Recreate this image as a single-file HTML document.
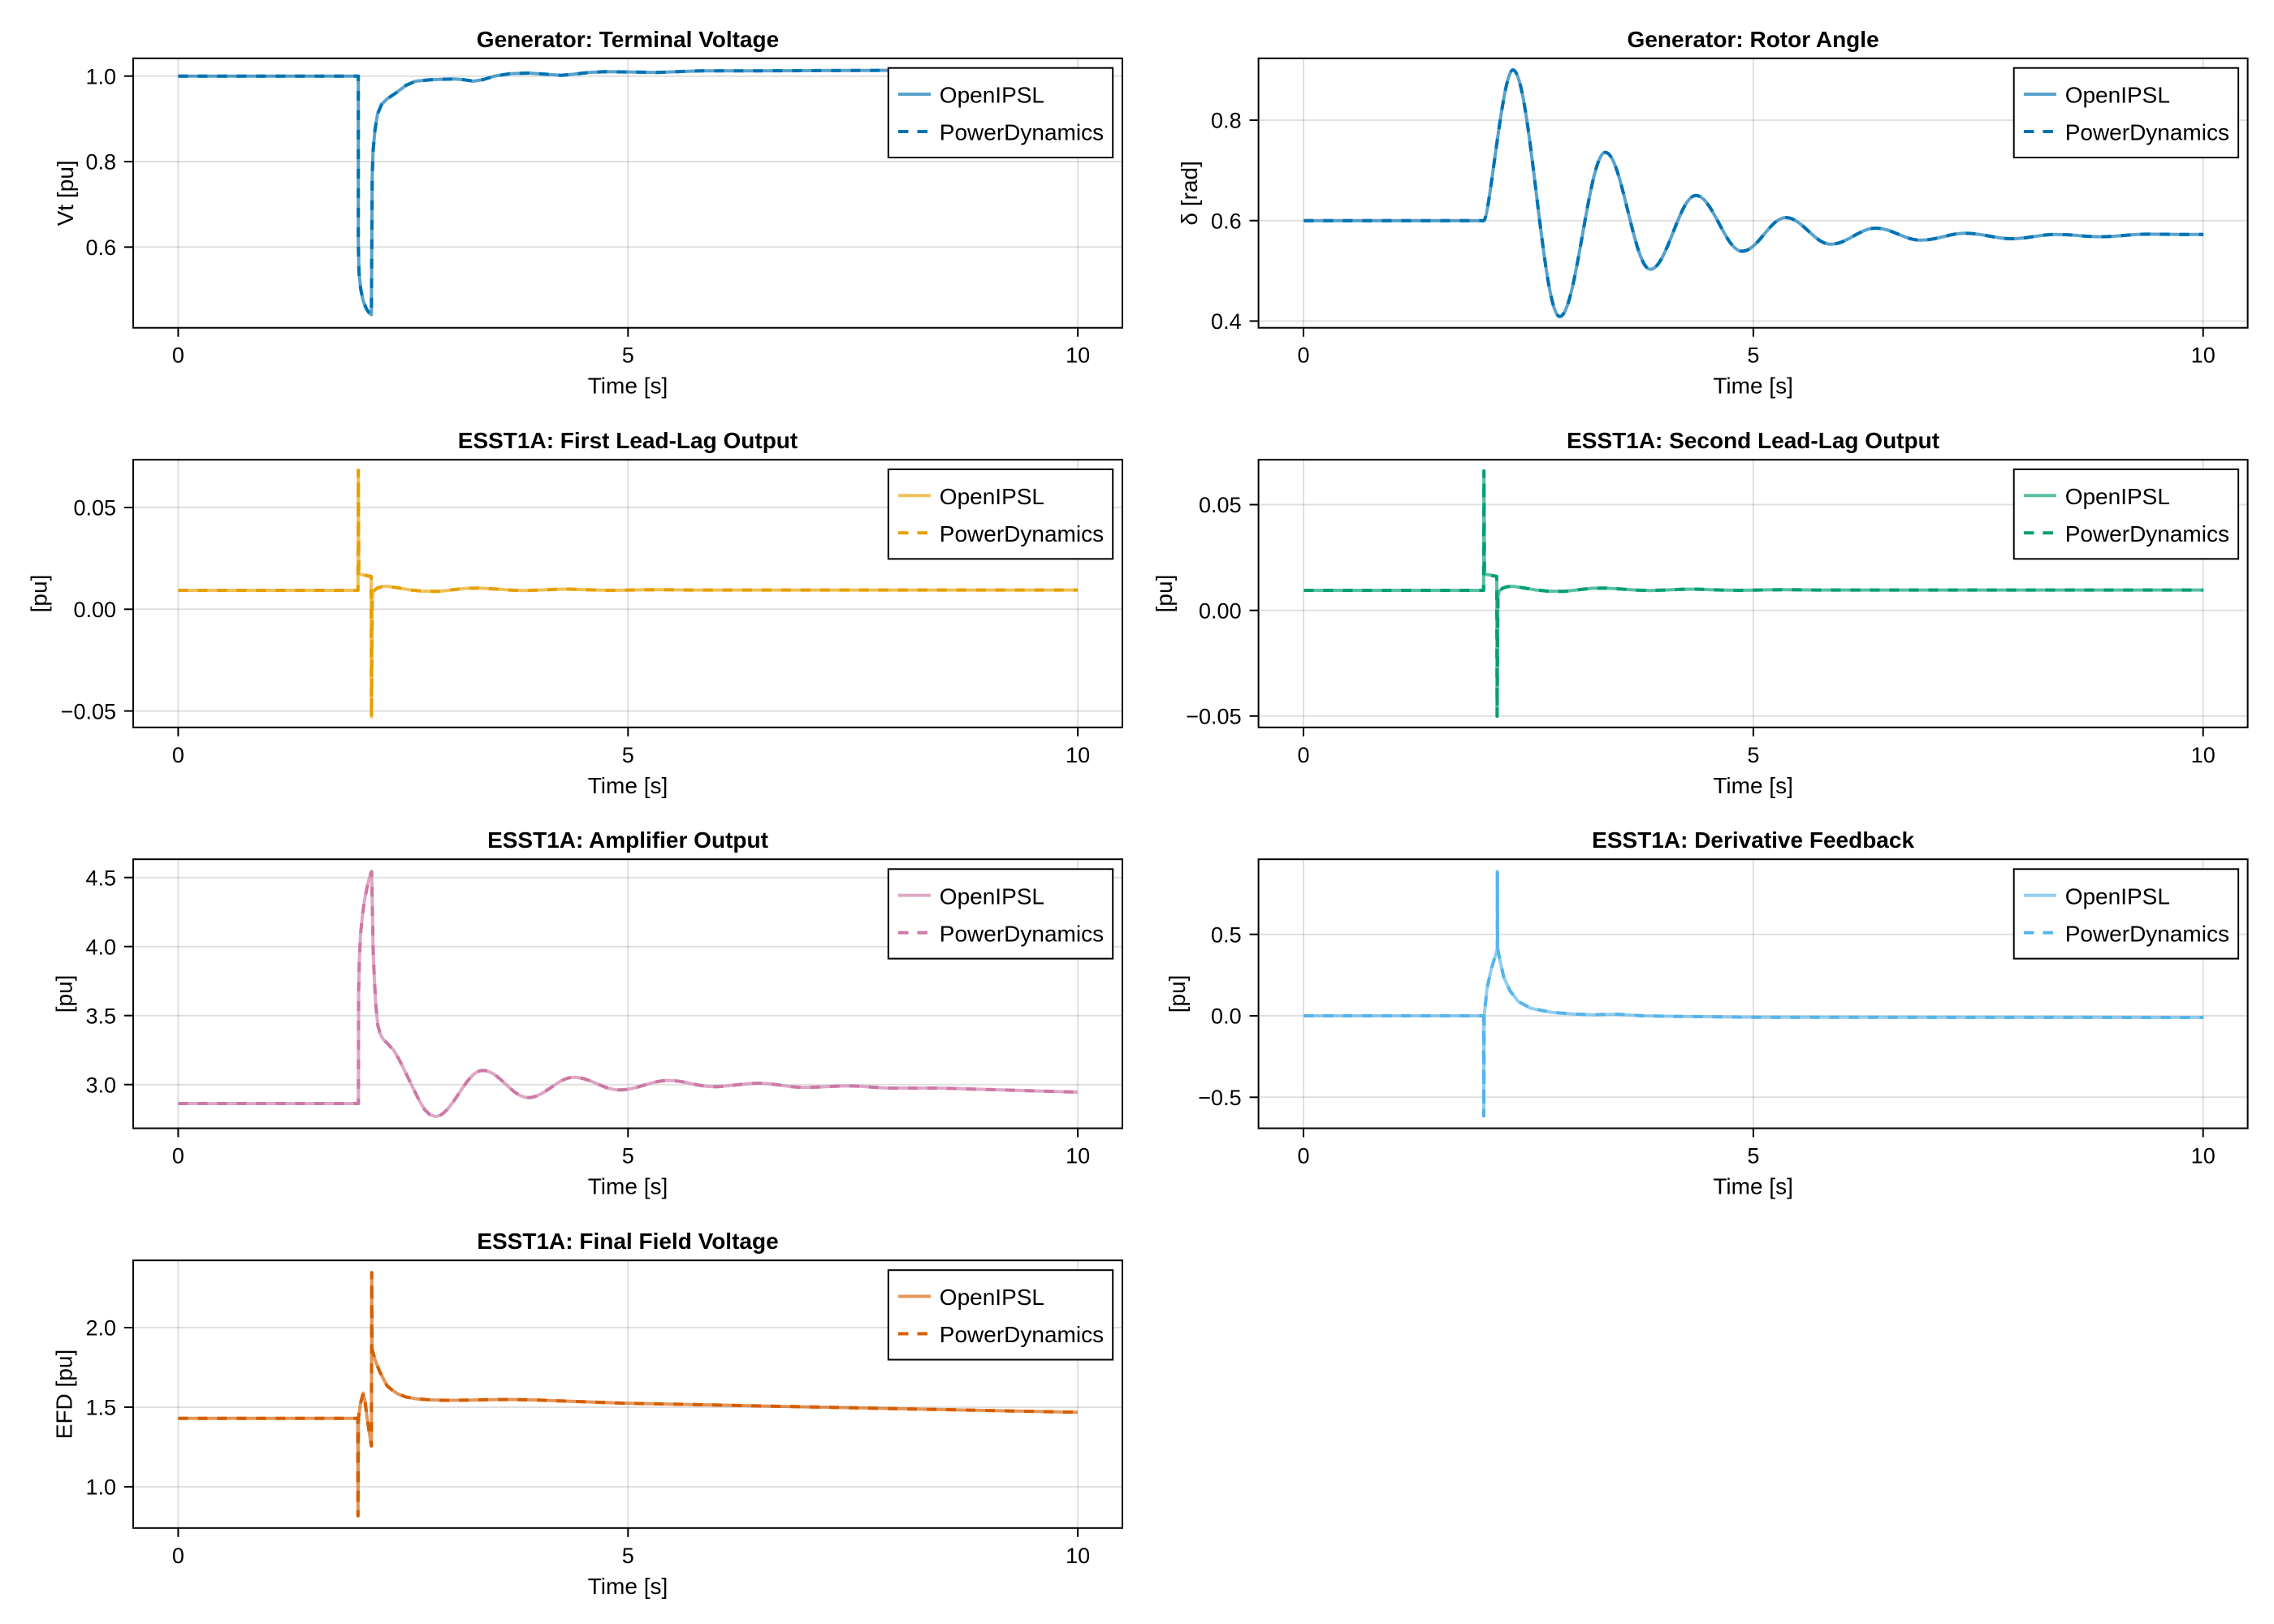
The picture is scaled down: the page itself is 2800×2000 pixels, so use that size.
<!DOCTYPE html>
<html>
<head>
<meta charset="utf-8">
<style>
html,body{margin:0;padding:0;background:#fff;}
svg{display:block;}
text{font-family:"Liberation Sans",Arial,sans-serif;fill:#000;}
.t{font-size:27px;}
.lab{font-size:28px;}
.ttl{font-size:28px;font-weight:bold;}
.grid{stroke:rgba(0,0,0,0.12);stroke-width:2;}
.tick{stroke:#000;stroke-width:2;}
.spine{fill:none;stroke:#000;stroke-width:2;}
.sol{fill:none;stroke-width:4;stroke-opacity:.65;stroke-linejoin:round;}
.dsh{fill:none;stroke-width:4;stroke-dasharray:12 12;stroke-linejoin:round;}
</style>
</head>
<body>
<svg width="2800" height="2000" viewBox="0 0 2800 2000" xmlns="http://www.w3.org/2000/svg">
<rect x="0" y="0" width="2800" height="2000" fill="#fff"/>

<!-- ================= Plot 1 Left: Terminal Voltage ================= -->
<g>
<line class="grid" x1="219.4" y1="71.8" x2="219.4" y2="403.7"/>
<line class="grid" x1="773.3" y1="71.8" x2="773.3" y2="403.7"/>
<line class="grid" x1="1327.1" y1="71.8" x2="1327.1" y2="403.7"/>
<line class="grid" x1="164" y1="93.7" x2="1382" y2="93.7"/>
<line class="grid" x1="164" y1="199" x2="1382" y2="199"/>
<line class="grid" x1="164" y1="304.3" x2="1382" y2="304.3"/>
<path class="sol" stroke="#0072B2" d="M219.4,93.7 L441.2,93.7 L441.2,250 L441.2,300 L442,335 L444,355 L447,370 L451,380 L455,386 L457.3,387.5 L457.8,300 L458.3,217 L459.3,187 L461.7,160 L465,140 L470,128.3 L476.7,121.7 L486.7,115 L500,105 L511.7,100 L529.6,98.3 L545,97.6 L560,97.3 L572,98.3 L583,100 L595,98 L610,93.5 L628.4,90.7 L650.8,90 L670,91.3 L691.2,92.7 L705,91.5 L725,89.3 L745,88.3 L775,88.6 L808,89.3 L840,88 L861.8,87.3 L920,87.3 L990,87 L1100,86.6 L1200,86.5 L1327,86.5"/>
<path class="dsh" stroke="#0072B2" d="M219.4,93.7 L441.2,93.7 L441.2,250 L441.2,300 L442,335 L444,355 L447,370 L451,380 L455,386 L457.3,387.5 L457.8,300 L458.3,217 L459.3,187 L461.7,160 L465,140 L470,128.3 L476.7,121.7 L486.7,115 L500,105 L511.7,100 L529.6,98.3 L545,97.6 L560,97.3 L572,98.3 L583,100 L595,98 L610,93.5 L628.4,90.7 L650.8,90 L670,91.3 L691.2,92.7 L705,91.5 L725,89.3 L745,88.3 L775,88.6 L808,89.3 L840,88 L861.8,87.3 L920,87.3 L990,87 L1100,86.6 L1200,86.5 L1327,86.5"/>
<rect class="spine" x="164" y="71.8" width="1218" height="331.9"/>
<line class="tick" x1="219.4" y1="403.7" x2="219.4" y2="414.7"/>
<line class="tick" x1="773.3" y1="403.7" x2="773.3" y2="414.7"/>
<line class="tick" x1="1327.1" y1="403.7" x2="1327.1" y2="414.7"/>
<line class="tick" x1="153" y1="93.7" x2="164" y2="93.7"/>
<line class="tick" x1="153" y1="199" x2="164" y2="199"/>
<line class="tick" x1="153" y1="304.3" x2="164" y2="304.3"/>
<text class="t" x="219.4" y="446.7" text-anchor="middle">0</text>
<text class="t" x="773.3" y="446.7" text-anchor="middle">5</text>
<text class="t" x="1327.1" y="446.7" text-anchor="middle">10</text>
<text class="t" x="143" y="103.4" text-anchor="end">1.0</text>
<text class="t" x="143" y="208.7" text-anchor="end">0.8</text>
<text class="t" x="143" y="314" text-anchor="end">0.6</text>
<text class="lab" x="773" y="484.7" text-anchor="middle">Time [s]</text>
<text class="lab" transform="translate(90,237.8) rotate(-90)" text-anchor="middle">Vt [pu]</text>
<text class="ttl" x="773" y="57.8" text-anchor="middle">Generator: Terminal Voltage</text>
<g transform="translate(1093.8,83.7)">
<rect x="0" y="0" width="276.4" height="110.3" fill="#fff" stroke="#000" stroke-width="2"/>
<line x1="12.2" y1="32.3" x2="52.2" y2="32.3" stroke="#0072B2" stroke-width="4" stroke-opacity=".65"/>
<text class="lab" x="63" y="43">OpenIPSL</text>
<line x1="12.2" y1="78.3" x2="52.2" y2="78.3" stroke="#0072B2" stroke-width="4" stroke-dasharray="12.5 11"/>
<text class="lab" x="63" y="89">PowerDynamics</text>
</g>
</g>

<!-- ================= Plot 1 Right: Rotor Angle ================= -->
<g>
<line class="grid" x1="1605" y1="71.8" x2="1605" y2="403.7"/>
<line class="grid" x1="2158.9" y1="71.8" x2="2158.9" y2="403.7"/>
<line class="grid" x1="2712.7" y1="71.8" x2="2712.7" y2="403.7"/>
<line class="grid" x1="1549.6" y1="148" x2="2767.6" y2="148"/>
<line class="grid" x1="1549.6" y1="271.7" x2="2767.6" y2="271.7"/>
<line class="grid" x1="1549.6" y1="395.4" x2="2767.6" y2="395.4"/>
<path class="sol" stroke="#0072B2" d="M1605.4,271.7 L1826.9,271.7 C1834,271.7 1850,86.1 1862.8,86.1 C1883.8,86.1 1899.5,389.8 1920.5,389.8 C1941.0,389.8 1956.2,187.6 1976.7,187.6 C1996.8,187.6 2011.9,331.7 2032.0,331.7 C2052.4,331.7 2067.7,240.8 2088.1,240.8 C2108.8,240.8 2124.4,309.4 2145.1,309.4 C2164.7,309.4 2179.3,268.0 2198.9,268.0 C2219.0,268.0 2234.1,300.8 2254.2,300.8 C2274.4,300.8 2289.4,281.0 2309.6,281.0 C2329.8,281.0 2344.8,295.8 2365.0,295.8 C2385.1,295.8 2400.2,287.2 2420.3,287.2 C2441.0,287.2 2456.5,294.0 2477.2,294.0 C2496.7,294.0 2511.4,288.7 2530.9,288.7 C2551.2,288.7 2566.5,291.5 2586.8,291.5 C2607.4,291.5 2622.7,288.4 2643.3,288.4 C2670,288.4 2690,289 2713.1,288.7"/>
<path class="dsh" stroke="#0072B2" d="M1605.4,271.7 L1826.9,271.7 C1834,271.7 1850,86.1 1862.8,86.1 C1883.8,86.1 1899.5,389.8 1920.5,389.8 C1941.0,389.8 1956.2,187.6 1976.7,187.6 C1996.8,187.6 2011.9,331.7 2032.0,331.7 C2052.4,331.7 2067.7,240.8 2088.1,240.8 C2108.8,240.8 2124.4,309.4 2145.1,309.4 C2164.7,309.4 2179.3,268.0 2198.9,268.0 C2219.0,268.0 2234.1,300.8 2254.2,300.8 C2274.4,300.8 2289.4,281.0 2309.6,281.0 C2329.8,281.0 2344.8,295.8 2365.0,295.8 C2385.1,295.8 2400.2,287.2 2420.3,287.2 C2441.0,287.2 2456.5,294.0 2477.2,294.0 C2496.7,294.0 2511.4,288.7 2530.9,288.7 C2551.2,288.7 2566.5,291.5 2586.8,291.5 C2607.4,291.5 2622.7,288.4 2643.3,288.4 C2670,288.4 2690,289 2713.1,288.7"/>
<rect class="spine" x="1549.6" y="71.8" width="1218" height="331.9"/>
<line class="tick" x1="1605" y1="403.7" x2="1605" y2="414.7"/>
<line class="tick" x1="2158.9" y1="403.7" x2="2158.9" y2="414.7"/>
<line class="tick" x1="2712.7" y1="403.7" x2="2712.7" y2="414.7"/>
<line class="tick" x1="1538.6" y1="148" x2="1549.6" y2="148"/>
<line class="tick" x1="1538.6" y1="271.7" x2="1549.6" y2="271.7"/>
<line class="tick" x1="1538.6" y1="395.4" x2="1549.6" y2="395.4"/>
<text class="t" x="1605" y="446.7" text-anchor="middle">0</text>
<text class="t" x="2158.9" y="446.7" text-anchor="middle">5</text>
<text class="t" x="2712.7" y="446.7" text-anchor="middle">10</text>
<text class="t" x="1528.6" y="157.7" text-anchor="end">0.8</text>
<text class="t" x="1528.6" y="281.4" text-anchor="end">0.6</text>
<text class="t" x="1528.6" y="405.1" text-anchor="end">0.4</text>
<text class="lab" x="2158.6" y="484.7" text-anchor="middle">Time [s]</text>
<text class="lab" transform="translate(1474,237.8) rotate(-90)" text-anchor="middle">δ [rad]</text>
<text class="ttl" x="2158.6" y="57.8" text-anchor="middle">Generator: Rotor Angle</text>
<g transform="translate(2479.7,83.7)">
<rect x="0" y="0" width="276.4" height="110.3" fill="#fff" stroke="#000" stroke-width="2"/>
<line x1="12.2" y1="32.3" x2="52.2" y2="32.3" stroke="#0072B2" stroke-width="4" stroke-opacity=".65"/>
<text class="lab" x="63" y="43">OpenIPSL</text>
<line x1="12.2" y1="78.3" x2="52.2" y2="78.3" stroke="#0072B2" stroke-width="4" stroke-dasharray="12.5 11"/>
<text class="lab" x="63" y="89">PowerDynamics</text>
</g>
</g>

<!-- ================= Plot 2 Left: First Lead-Lag ================= -->
<g>
<line class="grid" x1="219.4" y1="566.2" x2="219.4" y2="895.8"/>
<line class="grid" x1="773.3" y1="566.2" x2="773.3" y2="895.8"/>
<line class="grid" x1="1327.1" y1="566.2" x2="1327.1" y2="895.8"/>
<line class="grid" x1="164" y1="625" x2="1382" y2="625"/>
<line class="grid" x1="164" y1="750.3" x2="1382" y2="750.3"/>
<line class="grid" x1="164" y1="875.6" x2="1382" y2="875.6"/>
<path class="sol" stroke="#E69F00" d="M219.4,727 L440.8,727 L441.2,579.3 L441.8,707 L450,708.5 L457,710 L457.4,882.7 L458.4,735 L460,728 L464,724.5 L470,722.5 L477,722 L490,724 L505,726.5 L520,728 L540,728.3 L560,726 L575,724.5 L590,724.3 L610,725.4 L630,726.8 L646,727.3 L665,726.6 L685,725.7 L701,725.5 L720,726.2 L740,726.8 L757,727 L790,726.4 L812,726.2 L850,726.6 L1327,726.6"/>
<path class="dsh" stroke="#E69F00" d="M219.4,727 L440.8,727 L441.2,579.3 L441.8,707 L450,708.5 L457,710 L457.4,882.7 L458.4,735 L460,728 L464,724.5 L470,722.5 L477,722 L490,724 L505,726.5 L520,728 L540,728.3 L560,726 L575,724.5 L590,724.3 L610,725.4 L630,726.8 L646,727.3 L665,726.6 L685,725.7 L701,725.5 L720,726.2 L740,726.8 L757,727 L790,726.4 L812,726.2 L850,726.6 L1327,726.6"/>
<rect class="spine" x="164" y="566.2" width="1218" height="329.6"/>
<line class="tick" x1="219.4" y1="895.8" x2="219.4" y2="906.8"/>
<line class="tick" x1="773.3" y1="895.8" x2="773.3" y2="906.8"/>
<line class="tick" x1="1327.1" y1="895.8" x2="1327.1" y2="906.8"/>
<line class="tick" x1="153" y1="625" x2="164" y2="625"/>
<line class="tick" x1="153" y1="750.3" x2="164" y2="750.3"/>
<line class="tick" x1="153" y1="875.6" x2="164" y2="875.6"/>
<text class="t" x="219.4" y="938.8" text-anchor="middle">0</text>
<text class="t" x="773.3" y="938.8" text-anchor="middle">5</text>
<text class="t" x="1327.1" y="938.8" text-anchor="middle">10</text>
<text class="t" x="143" y="634.7" text-anchor="end">0.05</text>
<text class="t" x="143" y="760" text-anchor="end">0.00</text>
<text class="t" x="143" y="885.3" text-anchor="end">−0.05</text>
<text class="lab" x="773" y="976.8" text-anchor="middle">Time [s]</text>
<text class="lab" transform="translate(57.5,731) rotate(-90)" text-anchor="middle">[pu]</text>
<text class="ttl" x="773" y="552.2" text-anchor="middle">ESST1A: First Lead-Lag Output</text>
<g transform="translate(1093.8,578)">
<rect x="0" y="0" width="276.4" height="110.3" fill="#fff" stroke="#000" stroke-width="2"/>
<line x1="12.2" y1="32.3" x2="52.2" y2="32.3" stroke="#E69F00" stroke-width="4" stroke-opacity=".65"/>
<text class="lab" x="63" y="43">OpenIPSL</text>
<line x1="12.2" y1="78.3" x2="52.2" y2="78.3" stroke="#E69F00" stroke-width="4" stroke-dasharray="12.5 11"/>
<text class="lab" x="63" y="89">PowerDynamics</text>
</g>
</g>

<!-- ================= Plot 2 Right: Second Lead-Lag ================= -->
<g>
<line class="grid" x1="1605" y1="566.2" x2="1605" y2="895.8"/>
<line class="grid" x1="2158.9" y1="566.2" x2="2158.9" y2="895.8"/>
<line class="grid" x1="2712.7" y1="566.2" x2="2712.7" y2="895.8"/>
<line class="grid" x1="1549.6" y1="621.5" x2="2767.6" y2="621.5"/>
<line class="grid" x1="1549.6" y1="751.7" x2="2767.6" y2="751.7"/>
<line class="grid" x1="1549.6" y1="881.8" x2="2767.6" y2="881.8"/>
<g transform="translate(1386,0)">
<path class="sol" stroke="#009E73" d="M219.4,727 L440.8,727 L441.2,580 L441.8,707 L450,708.5 L457,710 L457.4,882 L458.4,735 L460,728 L464,724.5 L470,722.5 L477,722 L490,724 L505,726.5 L520,728 L540,728.3 L560,726 L575,724.5 L590,724.3 L610,725.4 L630,726.8 L646,727.3 L665,726.6 L685,725.7 L701,725.5 L720,726.2 L740,726.8 L757,727 L790,726.4 L812,726.2 L850,726.6 L1327,726.6"/>
<path class="dsh" stroke="#009E73" d="M219.4,727 L440.8,727 L441.2,580 L441.8,707 L450,708.5 L457,710 L457.4,882 L458.4,735 L460,728 L464,724.5 L470,722.5 L477,722 L490,724 L505,726.5 L520,728 L540,728.3 L560,726 L575,724.5 L590,724.3 L610,725.4 L630,726.8 L646,727.3 L665,726.6 L685,725.7 L701,725.5 L720,726.2 L740,726.8 L757,727 L790,726.4 L812,726.2 L850,726.6 L1327,726.6"/>
</g>
<rect class="spine" x="1549.6" y="566.2" width="1218" height="329.6"/>
<line class="tick" x1="1605" y1="895.8" x2="1605" y2="906.8"/>
<line class="tick" x1="2158.9" y1="895.8" x2="2158.9" y2="906.8"/>
<line class="tick" x1="2712.7" y1="895.8" x2="2712.7" y2="906.8"/>
<line class="tick" x1="1538.6" y1="621.5" x2="1549.6" y2="621.5"/>
<line class="tick" x1="1538.6" y1="751.7" x2="1549.6" y2="751.7"/>
<line class="tick" x1="1538.6" y1="881.8" x2="1549.6" y2="881.8"/>
<text class="t" x="1605" y="938.8" text-anchor="middle">0</text>
<text class="t" x="2158.9" y="938.8" text-anchor="middle">5</text>
<text class="t" x="2712.7" y="938.8" text-anchor="middle">10</text>
<text class="t" x="1528.6" y="631.2" text-anchor="end">0.05</text>
<text class="t" x="1528.6" y="761.4" text-anchor="end">0.00</text>
<text class="t" x="1528.6" y="891.5" text-anchor="end">−0.05</text>
<text class="lab" x="2158.6" y="976.8" text-anchor="middle">Time [s]</text>
<text class="lab" transform="translate(1443,731) rotate(-90)" text-anchor="middle">[pu]</text>
<text class="ttl" x="2158.6" y="552.2" text-anchor="middle">ESST1A: Second Lead-Lag Output</text>
<g transform="translate(2479.7,578)">
<rect x="0" y="0" width="276.4" height="110.3" fill="#fff" stroke="#000" stroke-width="2"/>
<line x1="12.2" y1="32.3" x2="52.2" y2="32.3" stroke="#009E73" stroke-width="4" stroke-opacity=".65"/>
<text class="lab" x="63" y="43">OpenIPSL</text>
<line x1="12.2" y1="78.3" x2="52.2" y2="78.3" stroke="#009E73" stroke-width="4" stroke-dasharray="12.5 11"/>
<text class="lab" x="63" y="89">PowerDynamics</text>
</g>
</g>

<!-- ================= Plot 3 Left: Amplifier Output ================= -->
<g>
<line class="grid" x1="219.4" y1="1058.2" x2="219.4" y2="1389.5"/>
<line class="grid" x1="773.3" y1="1058.2" x2="773.3" y2="1389.5"/>
<line class="grid" x1="1327.1" y1="1058.2" x2="1327.1" y2="1389.5"/>
<line class="grid" x1="164" y1="1080.7" x2="1382" y2="1080.7"/>
<line class="grid" x1="164" y1="1165.7" x2="1382" y2="1165.7"/>
<line class="grid" x1="164" y1="1250.7" x2="1382" y2="1250.7"/>
<line class="grid" x1="164" y1="1335.7" x2="1382" y2="1335.7"/>
<path class="sol" stroke="#CC79A7" d="M219.4,1359 L441.3,1359 L441.6,1220 L442.5,1180 L444,1150 L446.5,1125 L449.5,1105 L453,1088 L456,1077 L457.6,1073.3 L458.5,1120 L459.5,1170 L460.7,1200 L462.5,1235 L465.3,1263.3 L468.5,1274 L471.9,1280 L478,1286 L484.7,1293.3 L491,1304 L497.4,1316.7 L503.8,1330 L510.2,1343.3 L516.6,1356 L523,1366.7 L529,1372.5 L535.7,1375 C557,1375 573,1318.3 594.4,1318.3 C614.8,1318.3 630.1,1351.7 650.5,1351.7 C670.9,1351.7 686.2,1326.7 706.6,1326.7 C727.1,1326.7 742.4,1342.3 762.8,1342.3 C784.7,1342.3 801.2,1330.6 823.1,1330.6 C843.3,1330.6 858.3,1338.3 878.5,1338.3 C898.7,1338.3 913.7,1334 933.9,1334 C954.1,1334 969.1,1339.1 989.3,1339.1 C1009.4,1339.1 1024.5,1337.4 1044.6,1337.4 C1064.8,1337.4 1079.8,1340 1100,1340 C1120,1340 1135,1340 1155.4,1340 L1327.1,1345"/>
<path class="dsh" stroke="#CC79A7" d="M219.4,1359 L441.3,1359 L441.6,1220 L442.5,1180 L444,1150 L446.5,1125 L449.5,1105 L453,1088 L456,1077 L457.6,1073.3 L458.5,1120 L459.5,1170 L460.7,1200 L462.5,1235 L465.3,1263.3 L468.5,1274 L471.9,1280 L478,1286 L484.7,1293.3 L491,1304 L497.4,1316.7 L503.8,1330 L510.2,1343.3 L516.6,1356 L523,1366.7 L529,1372.5 L535.7,1375 C557,1375 573,1318.3 594.4,1318.3 C614.8,1318.3 630.1,1351.7 650.5,1351.7 C670.9,1351.7 686.2,1326.7 706.6,1326.7 C727.1,1326.7 742.4,1342.3 762.8,1342.3 C784.7,1342.3 801.2,1330.6 823.1,1330.6 C843.3,1330.6 858.3,1338.3 878.5,1338.3 C898.7,1338.3 913.7,1334 933.9,1334 C954.1,1334 969.1,1339.1 989.3,1339.1 C1009.4,1339.1 1024.5,1337.4 1044.6,1337.4 C1064.8,1337.4 1079.8,1340 1100,1340 C1120,1340 1135,1340 1155.4,1340 L1327.1,1345"/>
<rect class="spine" x="164" y="1058.2" width="1218" height="331.3"/>
<line class="tick" x1="219.4" y1="1389.5" x2="219.4" y2="1400.5"/>
<line class="tick" x1="773.3" y1="1389.5" x2="773.3" y2="1400.5"/>
<line class="tick" x1="1327.1" y1="1389.5" x2="1327.1" y2="1400.5"/>
<line class="tick" x1="153" y1="1080.7" x2="164" y2="1080.7"/>
<line class="tick" x1="153" y1="1165.7" x2="164" y2="1165.7"/>
<line class="tick" x1="153" y1="1250.7" x2="164" y2="1250.7"/>
<line class="tick" x1="153" y1="1335.7" x2="164" y2="1335.7"/>
<text class="t" x="219.4" y="1432.5" text-anchor="middle">0</text>
<text class="t" x="773.3" y="1432.5" text-anchor="middle">5</text>
<text class="t" x="1327.1" y="1432.5" text-anchor="middle">10</text>
<text class="t" x="143" y="1090.4" text-anchor="end">4.5</text>
<text class="t" x="143" y="1175.4" text-anchor="end">4.0</text>
<text class="t" x="143" y="1260.4" text-anchor="end">3.5</text>
<text class="t" x="143" y="1345.4" text-anchor="end">3.0</text>
<text class="lab" x="773" y="1470.5" text-anchor="middle">Time [s]</text>
<text class="lab" transform="translate(88.5,1223.9) rotate(-90)" text-anchor="middle">[pu]</text>
<text class="ttl" x="773" y="1044.2" text-anchor="middle">ESST1A: Amplifier Output</text>
<g transform="translate(1093.8,1070.3)">
<rect x="0" y="0" width="276.4" height="110.3" fill="#fff" stroke="#000" stroke-width="2"/>
<line x1="12.2" y1="32.3" x2="52.2" y2="32.3" stroke="#CC79A7" stroke-width="4" stroke-opacity=".65"/>
<text class="lab" x="63" y="43">OpenIPSL</text>
<line x1="12.2" y1="78.3" x2="52.2" y2="78.3" stroke="#CC79A7" stroke-width="4" stroke-dasharray="12.5 11"/>
<text class="lab" x="63" y="89">PowerDynamics</text>
</g>
</g>

<!-- ================= Plot 3 Right: Derivative Feedback ================= -->
<g>
<line class="grid" x1="1605" y1="1058.2" x2="1605" y2="1389.5"/>
<line class="grid" x1="2158.9" y1="1058.2" x2="2158.9" y2="1389.5"/>
<line class="grid" x1="2712.7" y1="1058.2" x2="2712.7" y2="1389.5"/>
<line class="grid" x1="1549.6" y1="1150.7" x2="2767.6" y2="1150.7"/>
<line class="grid" x1="1549.6" y1="1251" x2="2767.6" y2="1251"/>
<line class="grid" x1="1549.6" y1="1351.3" x2="2767.6" y2="1351.3"/>
<path class="sol" stroke="#56B4E9" d="M1605.4,1251 L1826.8,1251 L1827,1374.3 L1827.5,1251 L1828.6,1240 L1831.1,1216.7 L1836.2,1193.3 L1841.3,1176.7 L1843.7,1168.3 L1843.7,1073 L1844,1168.3 L1846.4,1180 L1851.5,1203.3 L1859.2,1220 L1869.4,1233.3 L1884.7,1241.7 L1910.2,1246.7 L1935.7,1248.7 L1961.2,1249.7 L1991.8,1249 L2022.4,1251 L2063.3,1251.7 L2160.2,1252.7 L2713.1,1253"/>
<path class="dsh" stroke="#56B4E9" d="M1605.4,1251 L1826.8,1251 L1827,1374.3 L1827.5,1251 L1828.6,1240 L1831.1,1216.7 L1836.2,1193.3 L1841.3,1176.7 L1843.7,1168.3 L1843.7,1073 L1844,1168.3 L1846.4,1180 L1851.5,1203.3 L1859.2,1220 L1869.4,1233.3 L1884.7,1241.7 L1910.2,1246.7 L1935.7,1248.7 L1961.2,1249.7 L1991.8,1249 L2022.4,1251 L2063.3,1251.7 L2160.2,1252.7 L2713.1,1253"/>
<rect class="spine" x="1549.6" y="1058.2" width="1218" height="331.3"/>
<line class="tick" x1="1605" y1="1389.5" x2="1605" y2="1400.5"/>
<line class="tick" x1="2158.9" y1="1389.5" x2="2158.9" y2="1400.5"/>
<line class="tick" x1="2712.7" y1="1389.5" x2="2712.7" y2="1400.5"/>
<line class="tick" x1="1538.6" y1="1150.7" x2="1549.6" y2="1150.7"/>
<line class="tick" x1="1538.6" y1="1251" x2="1549.6" y2="1251"/>
<line class="tick" x1="1538.6" y1="1351.3" x2="1549.6" y2="1351.3"/>
<text class="t" x="1605" y="1432.5" text-anchor="middle">0</text>
<text class="t" x="2158.9" y="1432.5" text-anchor="middle">5</text>
<text class="t" x="2712.7" y="1432.5" text-anchor="middle">10</text>
<text class="t" x="1528.6" y="1160.4" text-anchor="end">0.5</text>
<text class="t" x="1528.6" y="1260.7" text-anchor="end">0.0</text>
<text class="t" x="1528.6" y="1361" text-anchor="end">−0.5</text>
<text class="lab" x="2158.6" y="1470.5" text-anchor="middle">Time [s]</text>
<text class="lab" transform="translate(1459,1223.9) rotate(-90)" text-anchor="middle">[pu]</text>
<text class="ttl" x="2158.6" y="1044.2" text-anchor="middle">ESST1A: Derivative Feedback</text>
<g transform="translate(2479.7,1070.3)">
<rect x="0" y="0" width="276.4" height="110.3" fill="#fff" stroke="#000" stroke-width="2"/>
<line x1="12.2" y1="32.3" x2="52.2" y2="32.3" stroke="#56B4E9" stroke-width="4" stroke-opacity=".65"/>
<text class="lab" x="63" y="43">OpenIPSL</text>
<line x1="12.2" y1="78.3" x2="52.2" y2="78.3" stroke="#56B4E9" stroke-width="4" stroke-dasharray="12.5 11"/>
<text class="lab" x="63" y="89">PowerDynamics</text>
</g>
</g>

<!-- ================= Plot 4 Left: Final Field Voltage ================= -->
<g>
<line class="grid" x1="219.4" y1="1552.2" x2="219.4" y2="1881.8"/>
<line class="grid" x1="773.3" y1="1552.2" x2="773.3" y2="1881.8"/>
<line class="grid" x1="1327.1" y1="1552.2" x2="1327.1" y2="1881.8"/>
<line class="grid" x1="164" y1="1635" x2="1382" y2="1635"/>
<line class="grid" x1="164" y1="1733" x2="1382" y2="1733"/>
<line class="grid" x1="164" y1="1831" x2="1382" y2="1831"/>
<path class="sol" stroke="#D55E00" d="M219.4,1746.7 L440.5,1746.7 L440.8,1866.7 L441.3,1746.7 L444,1728 L447.3,1715.7 L449.5,1726 L452,1746 L455,1766 L457.3,1780.7 L457.7,1567.3 L458.1,1661.7 L462,1675 L467,1688 L472,1698 L476.7,1706.7 L483,1712 L490,1716.7 L500,1720.5 L513,1722.7 L530,1724 L547,1724.5 L580,1724.3 L600,1723.7 L630,1723.5 L663,1724.3 L700,1725.6 L765,1728 L1327,1739.3"/>
<path class="dsh" stroke="#D55E00" d="M219.4,1746.7 L440.5,1746.7 L440.8,1866.7 L441.3,1746.7 L444,1728 L447.3,1715.7 L449.5,1726 L452,1746 L455,1766 L457.3,1780.7 L457.7,1567.3 L458.1,1661.7 L462,1675 L467,1688 L472,1698 L476.7,1706.7 L483,1712 L490,1716.7 L500,1720.5 L513,1722.7 L530,1724 L547,1724.5 L580,1724.3 L600,1723.7 L630,1723.5 L663,1724.3 L700,1725.6 L765,1728 L1327,1739.3"/>
<rect class="spine" x="164" y="1552.2" width="1218" height="329.6"/>
<line class="tick" x1="219.4" y1="1881.8" x2="219.4" y2="1892.8"/>
<line class="tick" x1="773.3" y1="1881.8" x2="773.3" y2="1892.8"/>
<line class="tick" x1="1327.1" y1="1881.8" x2="1327.1" y2="1892.8"/>
<line class="tick" x1="153" y1="1635" x2="164" y2="1635"/>
<line class="tick" x1="153" y1="1733" x2="164" y2="1733"/>
<line class="tick" x1="153" y1="1831" x2="164" y2="1831"/>
<text class="t" x="219.4" y="1924.8" text-anchor="middle">0</text>
<text class="t" x="773.3" y="1924.8" text-anchor="middle">5</text>
<text class="t" x="1327.1" y="1924.8" text-anchor="middle">10</text>
<text class="t" x="143" y="1644.7" text-anchor="end">2.0</text>
<text class="t" x="143" y="1742.7" text-anchor="end">1.5</text>
<text class="t" x="143" y="1840.7" text-anchor="end">1.0</text>
<text class="lab" x="773" y="1962.8" text-anchor="middle">Time [s]</text>
<text class="lab" transform="translate(88.5,1717) rotate(-90)" text-anchor="middle">EFD [pu]</text>
<text class="ttl" x="773" y="1538.2" text-anchor="middle">ESST1A: Final Field Voltage</text>
<g transform="translate(1093.8,1564.2)">
<rect x="0" y="0" width="276.4" height="110.3" fill="#fff" stroke="#000" stroke-width="2"/>
<line x1="12.2" y1="32.3" x2="52.2" y2="32.3" stroke="#D55E00" stroke-width="4" stroke-opacity=".65"/>
<text class="lab" x="63" y="43">OpenIPSL</text>
<line x1="12.2" y1="78.3" x2="52.2" y2="78.3" stroke="#D55E00" stroke-width="4" stroke-dasharray="12.5 11"/>
<text class="lab" x="63" y="89">PowerDynamics</text>
</g>
</g>

</svg>
</body>
</html>
